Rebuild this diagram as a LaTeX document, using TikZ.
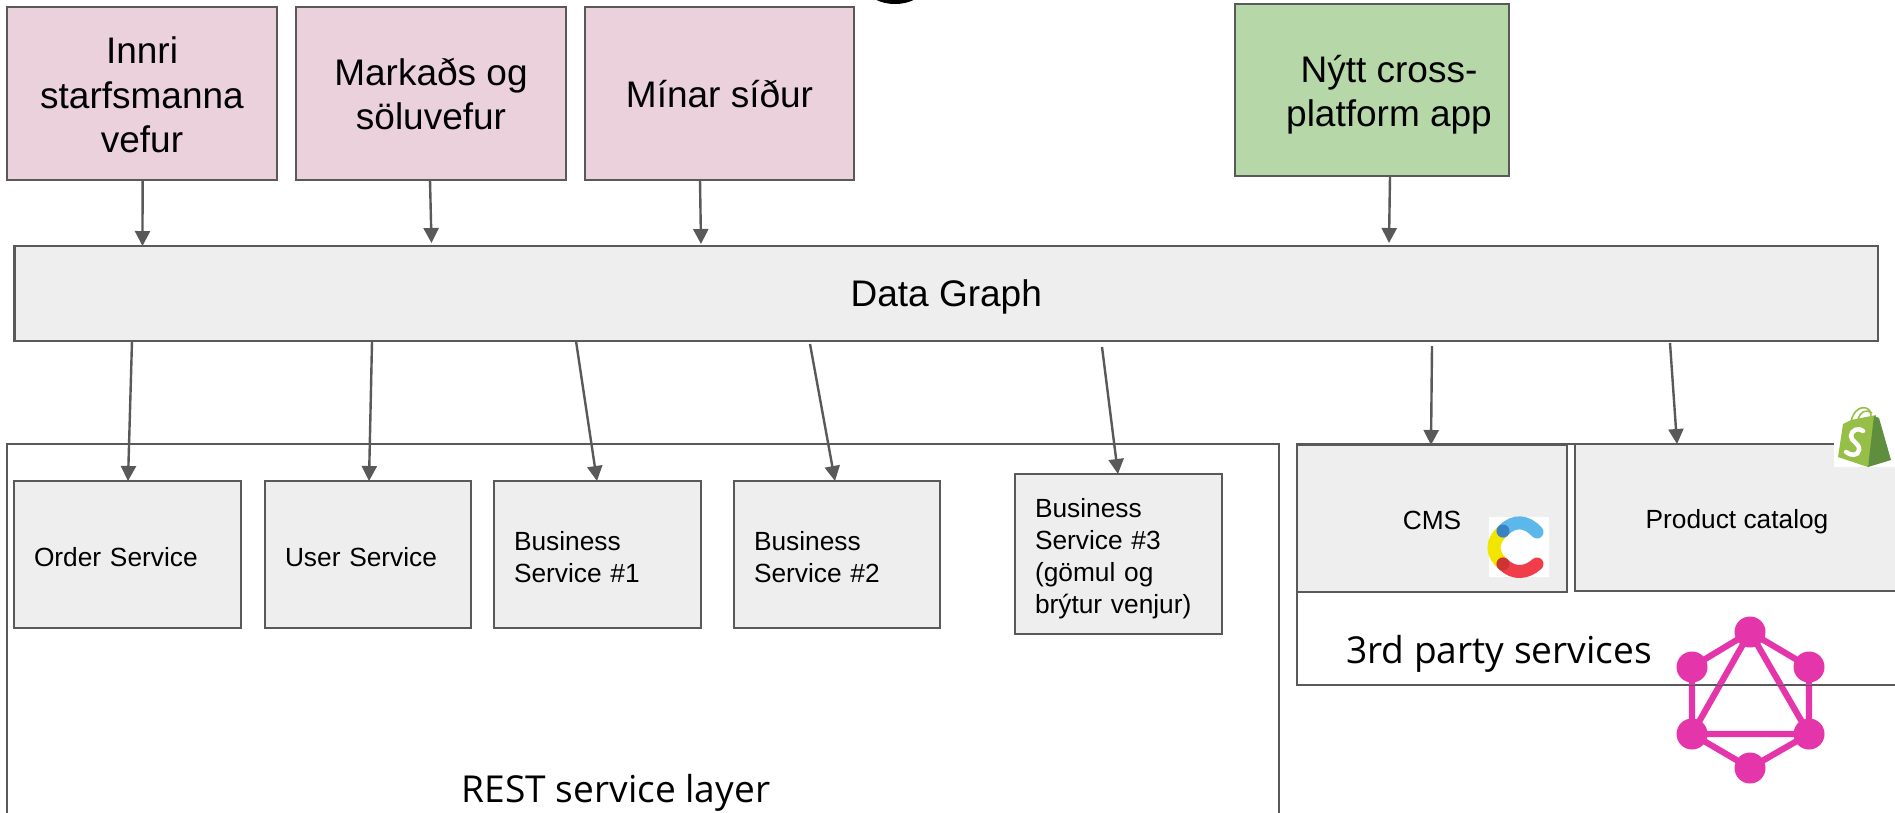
\documentclass[tikz,border=0pt]{standalone}
\usepackage{fontspec}
\setmainfont{Liberation Sans}
\newfontfamily\labelfont{Open Sans}
\usetikzlibrary{arrows.meta,calc}
\definecolor{edge}{HTML}{595959}
\definecolor{pinkfill}{HTML}{EAD1DC}
\definecolor{greenfill}{HTML}{B6D7A8}
\definecolor{grayfill}{HTML}{EEEEEE}
\definecolor{gql}{HTML}{E535AB}
\newcommand{\bx}[7][]{% style, name, x1,y1,x2,y2, text
  \node[#1,minimum width={#5pt-#3pt},minimum height={#6pt-#4pt}] (#2) at ({(#3+#5)/2},{(#4+#6)/2}) {#7};}
\newcommand{\lines}[3][0pt]{\hspace*{#1}\raisebox{#2}[0pt][0pt]{\begin{tabular}{@{}c@{}}#3\end{tabular}}}
\tikzset{
  x=1pt,y=-1pt,
  drop/.style={execute at begin node={\rule{0pt}{#1pt}}},
  basebox/.style={draw=edge,line width=2.3pt,outer sep=0pt,inner sep=0pt,align=center},
  bigbox/.style={basebox,font=\fontsize{37}{44.5}\selectfont},
  tabbox/.style={draw=edge,line width=2.3pt,outer sep=0pt,inner sep=0pt,font=\fontsize{37}{44.5}\selectfont},
  pinkbox/.style={tabbox,fill=pinkfill},
  greenbox/.style={tabbox,fill=greenfill},
  graybox/.style={bigbox,fill=grayfill},
  svc/.style={basebox,fill=grayfill,font=\fontsize{26.3}{32}\selectfont,align=left,inner xsep=20pt,drop=25},
  cntr/.style={basebox,fill=grayfill,font=\fontsize{26.3}{32}\selectfont},
  frame/.style={draw=edge,line width=1.6pt,outer sep=0pt,inner sep=0pt},
  caption/.style={font=\labelfont\fontsize{37.1}{44}\selectfont,inner sep=0pt},
  arr/.style={draw=edge,line width=2.4pt,-{Triangle[length=15pt,width=15pt]}},
  gqledge/.style={draw=gql,line width=6.2pt},
  gqldot/.style={fill=gql,circle,minimum size=31pt,inner sep=0pt,outer sep=0pt}
}
\begin{document}
\begin{tikzpicture}
\useasboundingbox (0,0) rectangle (1895,812);
\clip (0,0) rectangle (1895,812);
\fill[white] (0,0) rectangle (1895,812);
% black shape cut by the top edge
\fill[black] (895,-12) ellipse [x radius=28pt,y radius=16pt];
% frames
\bx[frame]{rest}{7}{444}{1279}{900}{}
\bx[frame]{third}{1297}{444}{1950}{685}{}
\node[caption] (restlabel) at (616,793) {REST service layer};
\node[caption] (thirdlabel) at (1499,654) {3rd party services};
% clients
\bx[pinkbox]{innri}{7}{7}{277}{180}{\lines{-12pt}{Innri\\starfsmanna\\vefur}}
\bx[pinkbox]{markad}{296}{7}{566}{180}{\lines{-11.5pt}{Markaðs og\\söluvefur}}
\bx[pinkbox]{minar}{585}{7}{854}{180}{\lines{-11pt}{Mínar síður}}
\bx[greenbox]{nytt}{1235}{4}{1509}{176}{\lines[34pt]{-12pt}{Nýtt cross-\\platform app}}
\bx[graybox,drop=34]{data}{14.5}{246}{1878}{341}{Data Graph}
% services
\bx[svc,text width=187pt]{order}{14}{481}{241}{628}{Order Service}
\bx[svc,text width=166pt]{user}{265}{481}{471}{628}{User Service}
\bx[svc,text width=167pt]{bone}{494}{481}{701}{628}{Business\\Service \#1}
\bx[svc,text width=166pt]{btwo}{734}{481}{940}{628}{Business\\Service \#2}
\bx[svc,text width=167pt,drop=29]{bthree}{1015}{474}{1222}{634}{Business\\Service \#3\\(gömul og\\brýtur venjur)}
\bx[cntr,drop=22]{cms}{1297}{445}{1567}{592}{CMS}
\bx[cntr,drop=27]{product}{1575}{444}{1899}{591}{Product catalog}
% connectors
\draw[arr] ([xshift=135.6pt]innri.south west) -- ([xshift=128pt]data.north west);
\draw[arr] ([xshift=134pt]markad.south west) -- ([xshift=417pt,yshift=3pt]data.north west);
\draw[arr] ([xshift=115pt]minar.south west) -- ([xshift=686.5pt,yshift=2pt]data.north west);
\draw[arr] ([xshift=155pt]nytt.south west) -- ([xshift=1374.5pt,yshift=3pt]data.north west);
\draw[arr] ([xshift=117.5pt]data.south west) -- ([xshift=114pt]order.north west);
\draw[arr] ([xshift=357.5pt,yshift=-1pt]data.south west) -- ([xshift=104pt]user.north west);
\draw[arr] ([xshift=561.5pt]data.south west) -- ([xshift=103pt]bone.north west);
\draw[arr] ([xshift=795.5pt,yshift=-3pt]data.south west) -- ([xshift=101pt]btwo.north west);
\draw[arr] ([xshift=1087.5pt,yshift=-6pt]data.south west) -- ([xshift=103pt]bthree.north west);
\draw[arr] ([xshift=1417.5pt,yshift=-5pt]data.south west) -- ([xshift=134pt]cms.north west);
\draw[arr] ([xshift=1655.5pt,yshift=-2pt]data.south west) -- ([xshift=102pt]product.north west);
% Contentful mark
\fill[white] (1489,517) rectangle (1549,577);
\begin{scope}[line width=13pt,line cap=round]
\draw[color={rgb,255:red,242;green,229;blue,0}] (1503,531) .. controls (1491,541) and (1491,554) .. (1503,564);
\draw[color={rgb,255:red,92;green,184;blue,235}] (1503,531) .. controls (1514,519) and (1527,521) .. (1537,532);
\draw[color={rgb,255:red,239;green,62;blue,74}] (1503,564) .. controls (1514,575) and (1527,573) .. (1537,564);
\end{scope}
\fill[color={rgb,255:red,59;green,130;blue,196}] (1503,531) circle [radius=6.5pt];
\fill[color={rgb,255:red,204;green,51;blue,51}] (1503,564) circle [radius=6.5pt];
% Shopify mark
\fill[white] (1834,407) rectangle (1895,467);
\draw[color={rgb,255:red,149;green,191;blue,71},line width=1.6pt] (1851,422) .. controls (1853,410) and (1862,405) .. (1868,409) .. controls (1871,411) and (1871,415) .. (1871,418);
\draw[color={rgb,255:red,149;green,191;blue,71},line width=1.6pt] (1858,420) .. controls (1860,411) and (1866,409) .. (1872,413);
\fill[color={rgb,255:red,149;green,191;blue,71}] (1838,457) -- (1843,424) -- (1851,420) -- (1876,415) -- (1868,467) -- cycle;
\fill[color={rgb,255:red,94;green,142;blue,62}] (1874,416) -- (1879,418) -- (1891,460) -- (1868,467) -- cycle;
\draw[white,line width=4.5pt,line cap=round] (1863,431) .. controls (1859,427) and (1851,430) .. (1851,436) .. controls (1851,442) and (1860,443) .. (1859,450) .. controls (1858,456) and (1851,456) .. (1846,452);
% GraphQL mark
\node[gqldot] (ga) at (1750,632) {};
\node[gqldot] (gb) at (1809,667) {};
\node[gqldot] (gc) at (1809,734) {};
\node[gqldot] (gd) at (1750,768) {};
\node[gqldot] (ge) at (1692,734) {};
\node[gqldot] (gf) at (1692,667) {};
\draw[gqledge] (ga.center) -- (gb.center) -- (gc.center) -- (gd.center) -- (ge.center) -- (gf.center) -- cycle;
\draw[gqledge] (ga.center) -- (gc.center) -- (ge.center) -- cycle;
\draw[edge,line width=1pt] (1670,685) -- (1830,685);
\end{tikzpicture}
\end{document}
